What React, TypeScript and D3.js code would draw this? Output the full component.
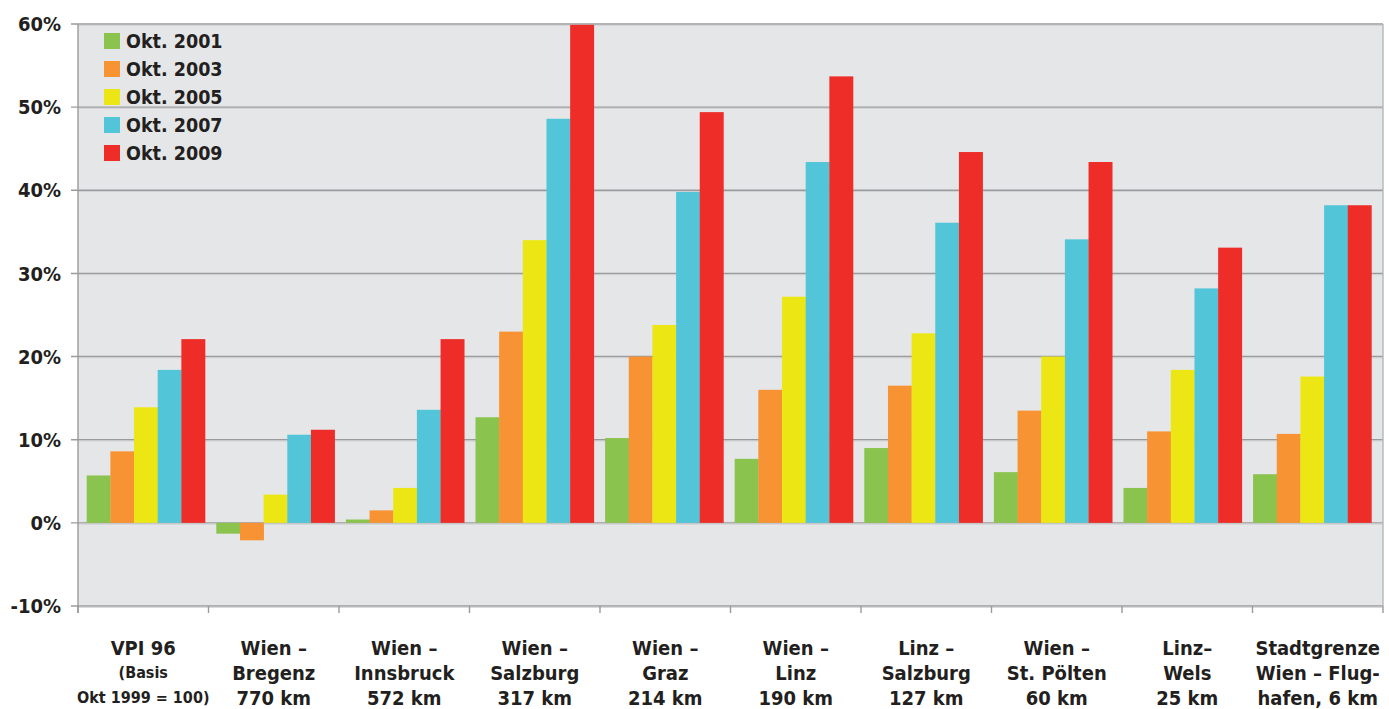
import React from "react";
import * as d3 from "d3";

const categories: string[][] = [
  ["VPI 96", "(Basis", "Okt 1999 = 100)"],
  ["Wien –", "Bregenz", "770 km"],
  ["Wien –", "Innsbruck", "572 km"],
  ["Wien –", "Salzburg", "317 km"],
  ["Wien –", "Graz", "214 km"],
  ["Wien –", "Linz", "190 km"],
  ["Linz –", "Salzburg", "127 km"],
  ["Wien –", "St. Pölten", "60 km"],
  ["Linz–", "Wels", "25 km"],
  ["Stadtgrenze", "Wien – Flug-", "hafen, 6 km"],
];

const seriesNames = ["Okt. 2001", "Okt. 2003", "Okt. 2005", "Okt. 2007", "Okt. 2009"];
const seriesColors = ["#8BC34F", "#F79332", "#ECE714", "#52C6D8", "#EE2D29"];

const okt2001 = [5.7, -1.3, 0.4, 12.7, 10.2, 7.7, 9.0, 6.1, 4.2, 5.85];
const okt2003 = [8.6, -2.1, 1.5, 23.0, 20.0, 16.0, 16.5, 13.5, 11.0, 10.7];
const okt2005 = [13.9, 3.4, 4.2, 34.0, 23.8, 27.2, 22.8, 20.0, 18.4, 17.6];
const okt2007 = [18.4, 10.6, 13.6, 48.6, 39.8, 43.4, 36.1, 34.1, 28.2, 38.2];
const okt2009 = [22.1, 11.2, 22.1, 59.9, 49.4, 53.7, 44.6, 43.4, 33.1, 38.2];
const seriesValues = [okt2001, okt2003, okt2005, okt2007, okt2009];

const yTicks = [-10, 0, 10, 20, 30, 40, 50, 60];

const W = 1389;
const H = 709;
const plotLeft = 78;
const plotRight = 1383;
const plotTop = 24;
const plotBottom = 606;
const FONT = "'DejaVu Sans Condensed', 'Roboto', sans-serif";
const TEXT = "#231F20";

export default function App() {
  const y = d3.scaleLinear().domain([-10, 60]).range([plotBottom, plotTop]);
  const x0 = d3
    .scaleBand<number>()
    .domain(d3.range(categories.length))
    .range([plotLeft, plotRight])
    .paddingInner(0)
    .paddingOuter(0);
  const xg = d3
    .scaleBand<number>()
    .domain(d3.range(categories.length))
    .range([86.7, 1371.4])
    .paddingInner(0.087)
    .paddingOuter(0);
  const x1 = d3
    .scaleBand<number>()
    .domain(d3.range(seriesNames.length))
    .range([0, xg.bandwidth()])
    .padding(0);

  return (
    <svg
      width={W}
      height={H}
      style={{ position: "absolute", left: 0, top: 0, background: "#fff" }}
    >
      <rect
        x={plotLeft}
        y={plotTop}
        width={plotRight - plotLeft}
        height={plotBottom - plotTop}
        fill="#E5E6E8"
      />
      {yTicks.map((t) => (
        <g key={t}>
          <line
            x1={plotLeft - 7}
            x2={plotRight}
            y1={y(t)}
            y2={y(t)}
            stroke="#9B9B9D"
            strokeWidth={1.4}
          />
          <line
            x1={plotLeft}
            x2={plotRight}
            y1={y(t) + 1.3}
            y2={y(t) + 1.3}
            stroke="#D0D1D3"
            strokeWidth={1}
          />
          <text
            x={61}
            y={y(t)}
            dy="0.36em"
            textAnchor="end"
            fontFamily={FONT}
            fontWeight="bold"
            fontSize={20}
            fill={TEXT}
          >
            {t}%
          </text>
        </g>
      ))}
      <line x1={plotLeft} x2={plotLeft} y1={plotTop} y2={plotBottom + 7} stroke="#9B9B9D" strokeWidth={1.4} />
      <line x1={plotRight} x2={plotRight} y1={plotTop} y2={plotBottom} stroke="#B5B6B8" strokeWidth={1.4} />
      {d3.range(categories.length + 1).map((i) => {
        const xv = plotLeft + i * x0.bandwidth();
        return (
          <line key={i} x1={xv} x2={xv} y1={plotBottom} y2={plotBottom + 7} stroke="#9B9B9D" strokeWidth={1.4} />
        );
      })}
      {categories.map((c, ci) => (
        <g key={ci} transform={`translate(${xg(ci)},0)`}>
          {seriesValues.map((vals, si) => {
            const v = vals[ci];
            const y0 = y(0);
            const yv = y(v);
            return (
              <rect
                key={si}
                x={x1(si)}
                y={Math.min(y0, yv)}
                width={x1.bandwidth() + 0.3}
                height={Math.abs(yv - y0)}
                fill={seriesColors[si]}
              />
            );
          })}
        </g>
      ))}
      {categories.map((c, ci) => {
        const cx = (x0(ci) as number) + x0.bandwidth() / 2;
        const small = ci === 0;
        return (
          <g key={ci} fontFamily={FONT} fontWeight="bold" fill={TEXT} textAnchor="middle">
            <text x={cx} y={655} fontSize={20}>{c[0]}</text>
            <text x={cx} y={small ? 678 : 680} fontSize={small ? 16 : 20}>{c[1]}</text>
            <text x={cx} y={small ? 703 : 705} fontSize={small ? 16 : 20}>{c[2]}</text>
          </g>
        );
      })}
      {seriesNames.map((n, i) => (
        <g key={n} transform={`translate(104,${33 + i * 28})`}>
          <rect width={16} height={16} fill={seriesColors[i]} />
          <text x={22} y={8} dy="0.36em" fontFamily={FONT} fontWeight="bold" fontSize={19.5} fill={TEXT}>
            {n}
          </text>
        </g>
      ))}
    </svg>
  );
}
